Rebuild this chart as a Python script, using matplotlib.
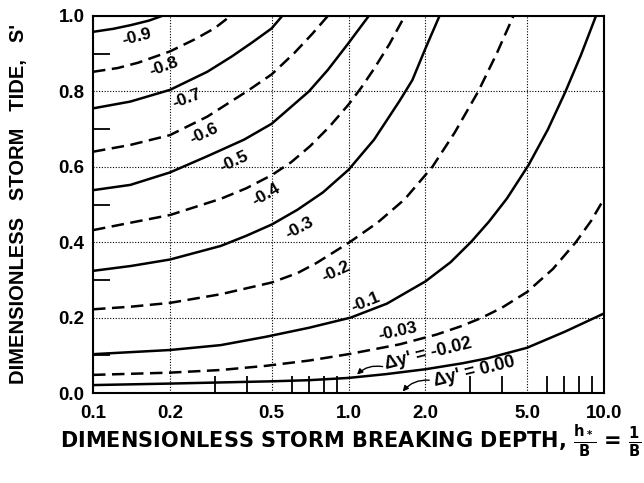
import numpy as np
import matplotlib
matplotlib.use('Agg')
import matplotlib.pyplot as plt
from matplotlib.ticker import FixedLocator, FixedFormatter, NullFormatter

plt.rcParams['font.family'] = ['Liberation Sans', 'DejaVu Sans']
plt.rcParams['font.weight'] = 'bold'
plt.rcParams['mathtext.fontset'] = 'custom'
plt.rcParams['mathtext.rm'] = 'DejaVu Sans:bold'
plt.rcParams['mathtext.it'] = 'DejaVu Sans:bold'
plt.rcParams['mathtext.bf'] = 'DejaVu Sans:bold'

# 読み取った曲線 (h*/B, S')
c09_x = [0.1, 0.12, 0.141, 0.166, 0.186]
c09_y = [0.958, 0.966, 0.976, 0.988, 1.0]
c08_x = [0.1, 0.125, 0.15, 0.2, 0.25, 0.3, 0.345]
c08_y = [0.852, 0.862, 0.876, 0.906, 0.938, 0.968, 1.0]
c07_x = [0.1, 0.14, 0.2, 0.28, 0.35, 0.42, 0.5, 0.55]
c07_y = [0.755, 0.773, 0.804, 0.852, 0.893, 0.93, 0.967, 1.0]
c06_x = [0.1, 0.14, 0.2, 0.28, 0.4, 0.5, 0.612, 0.72, 0.83]
c06_y = [0.640, 0.658, 0.684, 0.733, 0.80, 0.845, 0.901, 0.952, 1.0]
c05_x = [0.1, 0.14, 0.2, 0.28, 0.39, 0.5, 0.7, 0.83, 1.0, 1.2]
c05_y = [0.538, 0.552, 0.585, 0.628, 0.672, 0.714, 0.8, 0.857, 0.928, 1.0]
c04_x = [0.1, 0.141, 0.2, 0.316, 0.398, 0.501, 0.596, 0.708, 0.841, 1.0, 1.122, 1.259, 1.445, 1.66]
c04_y = [0.432, 0.452, 0.472, 0.515, 0.543, 0.578, 0.612, 0.655, 0.706, 0.765, 0.81, 0.86, 0.925, 1.0]
c03_x = [0.1, 0.141, 0.2, 0.316, 0.398, 0.501, 0.631, 0.794, 1.0, 1.259, 1.585, 1.778, 1.995, 2.27]
c03_y = [0.324, 0.337, 0.354, 0.39, 0.417, 0.447, 0.486, 0.532, 0.592, 0.672, 0.775, 0.83, 0.912, 1.0]
c02_x = [0.1, 0.141, 0.2, 0.316, 0.5, 0.631, 0.75, 1.0, 1.3, 1.66, 2.13, 2.6, 3.22, 3.8, 4.42]
c02_y = [0.222, 0.229, 0.239, 0.262, 0.293, 0.318, 0.345, 0.398, 0.452, 0.514, 0.6, 0.69, 0.8, 0.9, 1.0]
c01_x = [0.1, 0.2, 0.316, 0.474, 0.7, 1.02, 1.413, 2.0, 2.51, 3.03, 3.55, 4.17, 5.06, 6.03, 7.05, 8.13, 9.3]
c01_y = [0.103, 0.114, 0.127, 0.149, 0.173, 0.2, 0.237, 0.296, 0.347, 0.402, 0.455, 0.516, 0.604, 0.699, 0.798, 0.897, 1.0]
c003_x = [0.1, 0.2, 0.316, 0.474, 0.7, 1.0, 1.585, 2.21, 2.754, 3.31, 3.98, 5.0, 6.31, 7.76, 8.91, 10.0]
c003_y = [0.048, 0.054, 0.061, 0.072, 0.086, 0.103, 0.129, 0.155, 0.177, 0.199, 0.226, 0.268, 0.329, 0.4, 0.457, 0.515]
c002_x = [0.1, 0.2, 0.5, 0.7, 1.0, 1.4, 2.0, 2.8, 3.5, 5.0, 7.05, 10.0]
c002_y = [0.021, 0.025, 0.031, 0.034, 0.040, 0.05, 0.063, 0.079, 0.092, 0.12, 0.163, 0.211]

curves = [
    (c09_x, c09_y, '-'), (c08_x, c08_y, '--'), (c07_x, c07_y, '-'),
    (c06_x, c06_y, '--'), (c05_x, c05_y, '-'), (c04_x, c04_y, '--'),
    (c03_x, c03_y, '-'), (c02_x, c02_y, '--'), (c01_x, c01_y, '-'),
    (c003_x, c003_y, '--'), (c002_x, c002_y, '-'),
]

# ラベル (テキスト, x, y, 角度)
lbl_text = ['-0.9', '-0.8', '-0.7', '-0.6', '-0.5', '-0.4', '-0.3', '-0.2', '-0.1', '-0.03']
lbl_x = [0.1485, 0.189, 0.233, 0.271, 0.356, 0.474, 0.64, 0.893, 1.17, 1.56]
lbl_y = [0.945, 0.866, 0.782, 0.689, 0.614, 0.525, 0.437, 0.322, 0.242, 0.163]
lbl_rot = [14, 20, 20, 25, 25, 30, 28, 25, 22, 12]

xticks = [0.1, 0.2, 0.5, 1.0, 2.0, 5.0, 10.0]
xticklabels = ['0.1', '0.2', '0.5', '1.0', '2.0', '5.0', '10.0']
xminor = [0.3, 0.4, 0.6, 0.7, 0.8, 0.9, 3, 4, 6, 7, 8, 9]
yticks = [0.0, 0.2, 0.4, 0.6, 0.8, 1.0]
yticklabels = ['0.0', '0.2', '0.4', '0.6', '0.8', '1.0']
yminor = [0.1, 0.3, 0.5, 0.7, 0.9]

fig = plt.figure(figsize=(6.44, 4.83), dpi=100)
ax = fig.add_axes([93/644, 90/483, 511/644, 377/483])
ax.set_xscale('log')
ax.set_xlim(0.1, 10)
ax.set_ylim(0, 1)

for xs, ys, ls in curves:
    if ls == '--':
        ax.plot(xs, ys, color='black', lw=1.8, linestyle=(0, (5, 2.6)),
                solid_joinstyle='round')
    else:
        ax.plot(xs, ys, color='black', lw=1.8, solid_joinstyle='round')

for t, x, y, r in zip(lbl_text, lbl_x, lbl_y, lbl_rot):
    ax.text(x, y, t, fontsize=12.5, fontweight='bold', rotation=r,
            ha='center', va='center', rotation_mode='anchor')

# Δy' の注記と矢印
ax.text(2.06, 0.103, "Δy' = -0.02", fontsize=13, fontweight='bold', rotation=14,
        ha='center', va='center', rotation_mode='anchor')
ax.text(3.1, 0.0565, "Δy' = 0.00", fontsize=13, fontweight='bold', rotation=14,
        ha='center', va='center', rotation_mode='anchor')
ax.annotate('', xy=(1.08, 0.049), xytext=(1.36, 0.07),
            arrowprops=dict(arrowstyle='-|>', color='black', lw=1, mutation_scale=8,
                            shrinkA=0, shrinkB=0, connectionstyle='arc3,rad=0.25'))
ax.annotate('', xy=(1.63, 0.004), xytext=(2.07, 0.034),
            arrowprops=dict(arrowstyle='-|>', color='black', lw=1, mutation_scale=8,
                            shrinkA=0, shrinkB=0, connectionstyle='arc3,rad=0.25'))

ax.xaxis.set_major_locator(FixedLocator(xticks))
ax.xaxis.set_major_formatter(FixedFormatter(xticklabels))
ax.xaxis.set_minor_locator(FixedLocator(xminor))
ax.xaxis.set_minor_formatter(NullFormatter())
ax.yaxis.set_major_locator(FixedLocator(yticks))
ax.yaxis.set_major_formatter(FixedFormatter(yticklabels))
ax.yaxis.set_minor_locator(FixedLocator(yminor))

ax.tick_params(which='major', length=0, labelsize=13.5)
ax.tick_params(axis='y', which='major', pad=6)
ax.tick_params(axis='x', which='major', pad=9)
ax.tick_params(which='minor', direction='in', length=12, width=1.3, color='black')
for lab in ax.get_xticklabels() + ax.get_yticklabels():
    lab.set_fontweight('bold')

ax.grid(True, which='major', color='black', lw=0.8, linestyle=(0, (1, 1.5)))
for s in ax.spines.values():
    s.set_linewidth(1.5)

ax.set_ylabel("DIMENSIONLESS   STORM   TIDE,   S'", fontsize=14.5, fontweight='bold')
ax.yaxis.set_label_coords(-0.127, 0.5)
fig.text(351/644, 1 - 449/483,
         r"DIMENSIONLESS STORM BREAKING DEPTH, $\frac{h_*}{B}$ = $\frac{1}{B}$",
         fontsize=15, fontweight='bold', ha='center', va='baseline',
         family=['DejaVu Sans'])

fig.savefig('out.png', dpi=100)
